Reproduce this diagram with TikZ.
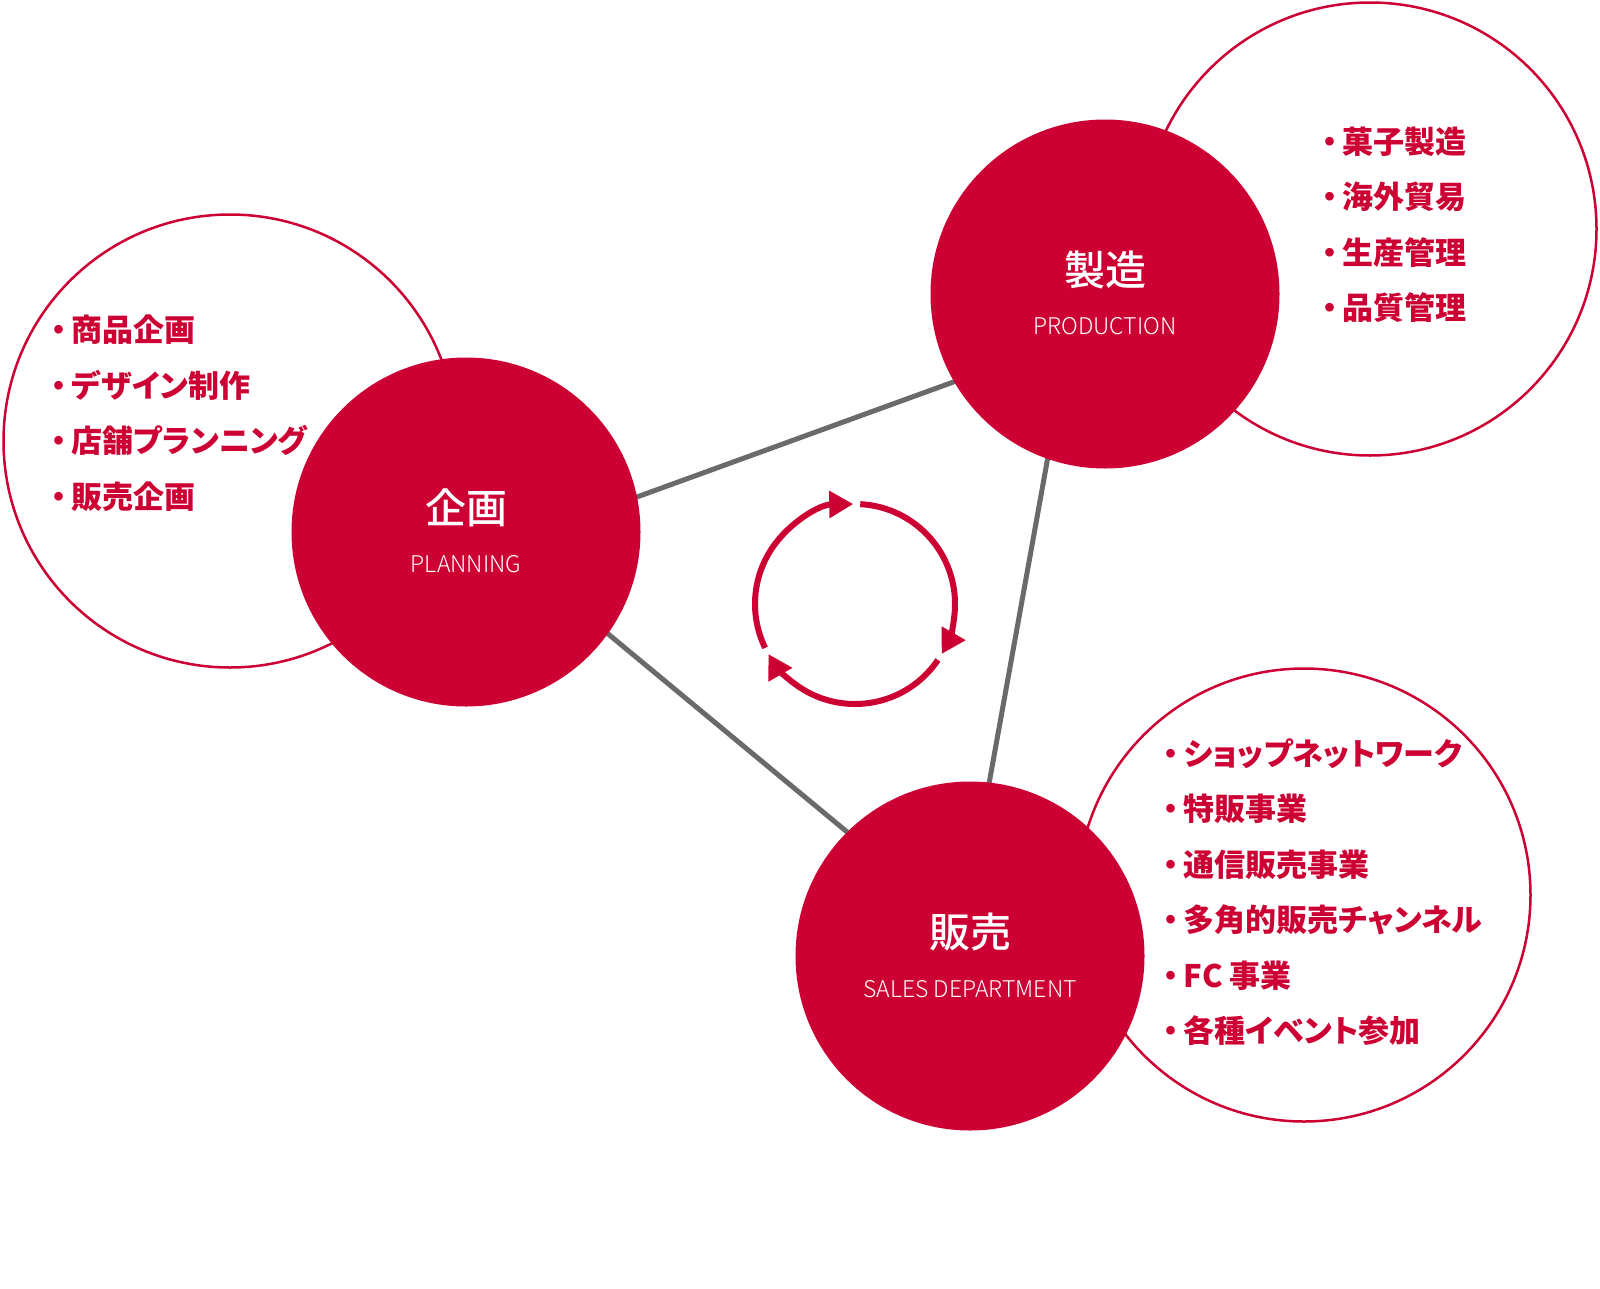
\documentclass[tikz,border=0pt]{standalone}
\usepackage{fontspec}
\usepackage{xcolor}
\usetikzlibrary{arrows.meta}
\newfontfamily\jpfont{Noto Sans CJK JP}[RawFeature=+palt]
\IfFontExistsTF{Noto Sans CJK JP Medium}
  {\newfontfamily\jptitle{Noto Sans CJK JP Medium}}
  {\newfontfamily\jptitle{Noto Sans CJK JP}}
\IfFontExistsTF{Noto Sans CJK JP Light}
  {\newfontfamily\enfont{Noto Sans CJK JP Light}}
  {\newfontfamily\enfont{Noto Sans CJK JP}}
\definecolor{kashiRed}{RGB}{204,0,51}
\definecolor{kashiGray}{RGB}{106,106,106}

\begin{document}
\begin{tikzpicture}[x=1pt, y=1pt,
    corecircle/.style={circle, fill=kashiRed, minimum size=349pt, inner sep=0pt},
    scopecircle/.style={circle, draw=kashiRed, line width=2.5pt, minimum size=453pt, inner sep=0pt},
    titletext/.style={text=white, font=\jptitle\fontsize{41}{48}\selectfont, inner sep=0pt},
    subtext/.style={text=white, font=\enfont\fontsize{23}{27}\selectfont, inner sep=0pt},
    tasklist/.style={text=kashiRed, font=\jpfont\bfseries\fontsize{31}{55.5}\selectfont,
    align=left, anchor=west, inner sep=0pt},
    link/.style={line width=5pt, color=kashiGray},
    cyclearrow/.style={line width=6pt, color=kashiRed, -{Triangle[length=24pt, width=26pt]}}
]
\useasboundingbox (0,0) rectangle (1600,-1288);

% hubs of the triangle
\coordinate (planhub) at (502,-546);
\coordinate (prodhub) at (1069,-340);
\coordinate (saleshub) at (963,-928);
\draw[link] (planhub) -- (prodhub);
\draw[link] (prodhub) -- (saleshub);
\draw[link] (saleshub) -- (planhub);

% outer circles
\node[scopecircle] (planout) at (230,-441) {};
\node[scopecircle] (prodout) at (1370,-229) {};
\node[scopecircle] (salesout) at (1304,-895) {};

% core circles
\node[corecircle] (plan) at (466,-532) {};
\node[corecircle] (prod) at (1105,-294) {};
\node[corecircle] (sales) at (970,-956) {};

% labels
\node[titletext] (plantitle) at ([yshift=24pt]plan.center) {企画};
\node[subtext] (plansub) at ([yshift=-32pt]plan.center) {PLANNING};
\node[titletext] (prodtitle) at ([yshift=24pt]prod.center) {製造};
\node[subtext] (prodsub) at ([yshift=-32pt]prod.center) {PRODUCTION};
\node[titletext] (salestitle) at ([yshift=24pt]sales.center) {販売};
\node[subtext] (salessub) at ([yshift=-33pt]sales.center) {SALES DEPARTMENT};

% task lists
\node[tasklist] (plantasks) at (51,-413) {・\,商品企画\\・\,デザイン制作\\・\,店舗プランニング\\・\,販売企画};
\node[tasklist] (prodtasks) at (1322,-225) {・\,菓子製造\\・\,海外貿易\\・\,生産管理\\・\,品質管理};
\node[tasklist] (salestasks) at (1163,-892) {・\,ショップネットワーク\\・\,特販事業\\・\,通信販売事業\\・\,多角的販売チャンネル\\・\,FC 事業\\・\,各種イベント参加};

% cycle
\coordinate (cyc) at (855,-604);
\draw[cyclearrow] ([shift={(206:100)}]cyc) arc[start angle=206, end angle=91, radius=100];
\draw[cyclearrow] ([shift={(87:100)}]cyc) arc[start angle=87, end angle=-30, radius=100];
\draw[cyclearrow] ([shift={(-34:100)}]cyc) arc[start angle=-34, end angle=-150, radius=100];
\end{tikzpicture}
\end{document}
